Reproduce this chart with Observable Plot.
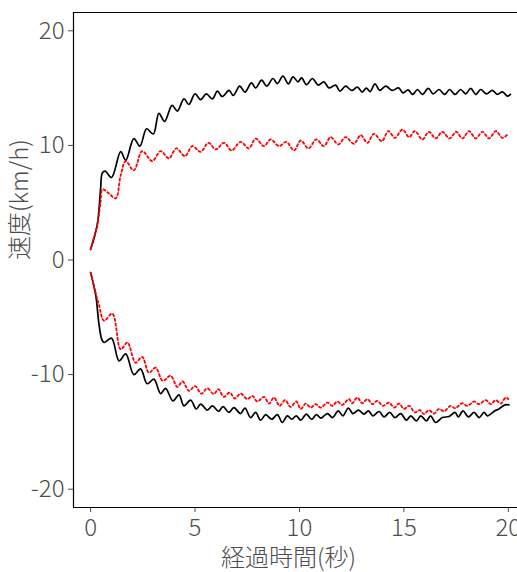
<!DOCTYPE html>
<html><head><meta charset="utf-8">
<script src="https://cdn.jsdelivr.net/npm/d3@7"></script>
<script src="https://cdn.jsdelivr.net/npm/@observablehq/plot@0.6"></script>
<style>body{margin:0;background:#fff}</style>
</head><body><div id="chart"></div>
<script>
const xTicks = [0, 5, 10, 15, 20];
const yTicks = [-20, -10, 0, 10, 20];
const xLabel = "経過時間(秒)";
const yLabel = "速度(km/h)";
const xDomain = [-0.82, 20.44];
const yDomain = [-21.6, 21.6];

const blackTopT = [0,0.32,0.48,0.56,0.7,1.0,1.44,1.68,2.07,2.36,2.68,3.0,3.27,3.54,3.9,4.15,4.47,4.7,5.0,5.27,5.54,5.83,6.07,6.3,6.63,6.83,7.14,7.39,7.7,7.9,8.19,8.43,8.73,8.94,9.21,9.47,9.69,9.93,10.1,10.34,10.62,10.9,11.17,11.41,11.73,11.94,12.21,12.5,12.77,13.01,13.2,13.38,13.62,13.84,14.13,14.45,14.74,14.96,15.2,15.42,15.65,15.88,16.17,16.4,16.68,16.95,17.19,17.45,17.72,17.96,18.2,18.44,18.68,18.95,19.24,19.48,19.72,19.96,20.1];
const blackTopV = [0.93,3.1,6.3,7.6,7.75,7.2,9.45,8.7,10.6,9.94,11.45,11.0,12.8,12.1,13.5,13.0,14.06,13.57,14.5,14.0,14.5,14.06,14.73,14.27,14.8,14.36,15.17,14.65,15.46,15.02,15.7,15.17,15.84,15.4,16.04,15.37,15.98,15.55,15.9,15.3,15.84,15.26,15.55,15.02,15.26,14.73,15.17,14.8,15.08,14.65,15.0,14.7,15.37,14.8,15.17,14.8,15.02,14.59,14.85,14.45,14.88,14.45,14.97,14.5,14.88,14.45,14.88,14.45,14.88,14.5,14.97,14.45,14.88,14.5,14.8,14.45,14.67,14.3,14.45];

const redTopT = [0,0.32,0.48,0.56,0.85,1.2,1.44,1.68,2.07,2.47,2.95,3.35,3.75,4.1,4.52,4.87,5.27,5.64,5.99,6.39,6.75,7.18,7.58,7.9,8.3,8.62,9.02,9.37,9.74,10.06,10.43,10.81,11.17,11.49,11.86,12.21,12.61,12.93,13.25,13.57,13.94,14.26,14.57,14.93,15.25,15.53,15.88,16.2,16.52,16.84,17.19,17.51,17.8,18.12,18.44,18.76,19.08,19.4,19.72,19.96];
const redTopV = [0.93,3.1,5.14,6.16,5.85,5.38,7.4,8.63,7.82,9.5,8.63,9.5,8.87,9.74,9.07,9.94,9.44,10.23,9.65,10.23,9.56,10.31,9.74,10.6,9.94,10.52,9.94,10.31,9.56,10.43,9.74,10.52,9.94,10.72,10.09,10.72,10.14,10.9,10.23,11.01,10.37,11.25,10.66,11.39,10.72,11.25,10.52,11.19,10.61,11.19,10.61,11.19,10.61,11.25,10.61,11.19,10.61,11.25,10.66,10.96];

const blackBottomT = [0,0.24,0.4,0.53,0.64,1.0,1.36,1.68,2.07,2.39,2.71,3.03,3.35,3.59,3.94,4.23,4.47,4.79,5.06,5.27,5.59,5.83,6.12,6.34,6.62,6.86,7.18,7.39,7.66,7.9,8.14,8.38,8.67,8.94,9.18,9.42,9.63,9.85,10.06,10.33,10.58,10.81,11.02,11.34,11.58,11.86,12.08,12.34,12.56,12.82,13.09,13.3,13.52,13.81,14.05,14.32,14.57,14.85,15.12,15.33,15.6,15.81,16.08,16.28,16.52,16.84,17.16,17.45,17.61,17.83,18.09,18.36,18.6,18.84,19.0,19.36,19.55,19.84,20.03];
const blackBottomV = [-1.1,-3.0,-5.6,-6.9,-7.2,-6.83,-8.8,-8.2,-10.0,-9.5,-10.8,-10.4,-11.66,-11.2,-12.3,-11.77,-12.73,-12.23,-13.0,-12.58,-13.1,-12.73,-13.2,-12.8,-13.3,-12.88,-13.4,-12.93,-13.75,-13.3,-13.98,-13.5,-13.9,-13.5,-14.18,-13.6,-13.9,-13.6,-13.98,-13.45,-13.9,-13.5,-13.8,-13.4,-13.75,-13.16,-13.6,-12.93,-13.4,-13.1,-13.45,-13.16,-13.6,-13.22,-13.69,-13.3,-13.75,-13.4,-13.98,-13.6,-14.04,-13.6,-14.04,-13.6,-14.18,-13.75,-13.66,-13.3,-13.69,-13.16,-13.69,-13.3,-13.75,-13.3,-13.6,-13.16,-13.0,-12.64,-12.64];

const redBottomT = [0,0.24,0.4,0.64,1.04,1.44,1.76,2.15,2.47,2.79,3.11,3.46,3.83,4.15,4.4,4.71,5.0,5.3,5.59,5.9,6.11,6.38,6.66,6.91,7.18,7.5,7.74,7.98,8.3,8.54,8.78,9.05,9.31,9.58,9.85,10.06,10.3,10.54,10.78,11.02,11.34,11.58,11.81,12.05,12.37,12.53,12.77,13.01,13.25,13.49,13.73,14.0,14.29,14.53,14.77,15.0,15.25,15.53,15.76,15.96,16.2,16.44,16.68,16.92,17.24,17.45,17.8,18.04,18.36,18.6,18.92,19.16,19.4,19.64,19.88,20.0];
const redBottomV = [-1.1,-2.9,-3.9,-5.3,-4.68,-7.8,-7.2,-8.95,-8.46,-9.83,-9.4,-10.55,-10.1,-11.07,-10.6,-11.42,-11.0,-11.66,-11.2,-11.7,-11.27,-11.94,-11.57,-12.09,-11.66,-12.14,-11.86,-12.35,-11.94,-12.53,-12.0,-12.73,-12.23,-12.82,-12.35,-13.0,-12.53,-12.88,-12.58,-12.88,-12.44,-12.73,-12.35,-12.64,-12.14,-12.5,-12.0,-12.5,-12.14,-12.58,-12.29,-12.73,-12.44,-12.88,-12.53,-13.0,-12.73,-13.3,-13.1,-13.45,-13.1,-13.4,-13.0,-13.2,-12.73,-12.93,-12.5,-12.73,-12.35,-12.58,-12.23,-12.58,-12.23,-12.53,-12.0,-12.14];

const toRows = (ts, vs) => ts.map((t, i) => ({t, v: vs[i]}));
const font = "'Noto Sans CJK JP', 'Noto Sans', sans-serif";
const textColor = "#4d4d4d";
const fmt = d => String(d);

const blackLine = rows => Plot.line(rows, {x: "t", y: "v", stroke: "#000", strokeWidth: 1.7, curve: "catmull-rom"});
const redLine = rows => Plot.line(rows, {x: "t", y: "v", stroke: "#ff0000", strokeWidth: 1.8, strokeDasharray: "2.2,2.6", curve: "catmull-rom"});

const chart = Plot.plot({
  width: 517, height: 572,
  marginLeft: 73, marginRight: 0, marginTop: 12, marginBottom: 65,
  style: {fontFamily: font, background: "#fff"},
  x: {domain: xDomain},
  y: {domain: yDomain},
  marks: [
    Plot.axisX({ticks: xTicks, tickFormat: fmt, tickSize: 5, tickPadding: 6, fontSize: 24, fontWeight: 300, color: textColor, label: null}),
    Plot.axisY({ticks: yTicks, tickFormat: fmt, tickSize: 5, tickPadding: 4, fontSize: 24, fontWeight: 300, color: textColor, label: null}),
    Plot.ruleX([xDomain[0]], {stroke: "#000", strokeWidth: 1.2}),
    Plot.ruleY(yDomain, {stroke: "#000", strokeWidth: 1.2}),
    blackLine(toRows(blackTopT, blackTopV)),
    blackLine(toRows(blackBottomT, blackBottomV)),
    redLine(toRows(redTopT, redTopV)),
    redLine(toRows(redBottomT, redBottomV)),
    Plot.text([xLabel], {text: d => d, frameAnchor: "bottom", dy: 58, dx: -7, fontSize: 24, fontWeight: 300, fill: textColor}),
    Plot.text([yLabel], {text: d => d, frameAnchor: "left", dx: -53, rotate: -90, fontSize: 24, fontWeight: 300, fill: textColor})
  ]
});
document.getElementById("chart").appendChild(chart);
</script>
</body></html>
